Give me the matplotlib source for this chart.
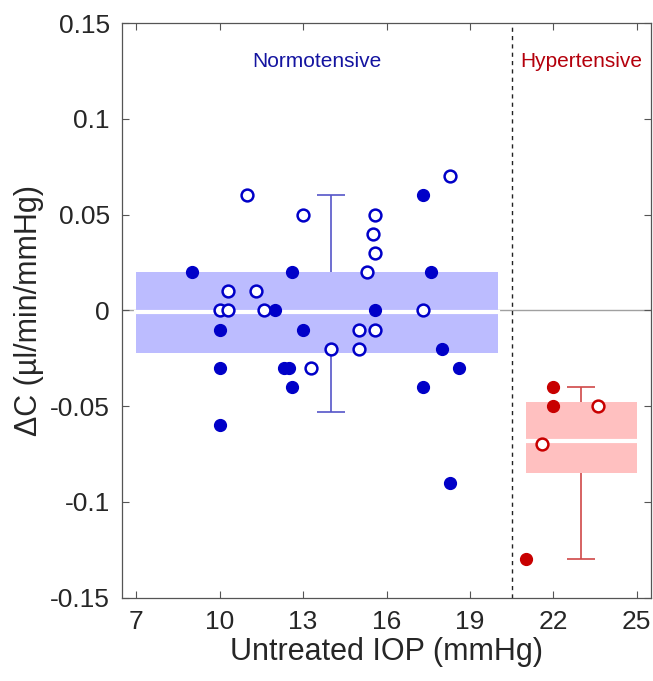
import numpy as np
import matplotlib.pyplot as plt

plt.rcParams['font.family'] = ['Liberation Sans', 'DejaVu Sans']

# normotensive eyes: IOP (mmHg), delta C
norm_fill_x = [9, 12.6, 12.0, 10, 13, 10, 12.3, 12.5, 12.6, 10,
               17.3, 17.6, 15.6, 18.0, 18.6, 17.3, 18.3]
norm_fill_y = [0.02, 0.02, 0, -0.01, -0.01, -0.03, -0.03, -0.03, -0.04, -0.06,
               0.06, 0.02, 0, -0.02, -0.03, -0.04, -0.09]
norm_open_x = [11, 13, 10.3, 11.3, 10, 10.3, 11.6, 13.3, 18.3, 15.6,
               15.5, 15.6, 15.3, 17.3, 15, 15.6, 14, 15]
norm_open_y = [0.06, 0.05, 0.01, 0.01, 0, 0, 0, -0.03, 0.07, 0.05,
               0.04, 0.03, 0.02, 0, -0.01, -0.01, -0.02, -0.02]

# hypertensive eyes
hyp_fill_x = [22, 22, 21]
hyp_fill_y = [-0.04, -0.05, -0.13]
hyp_open_x = [23.6, 21.6]
hyp_open_y = [-0.05, -0.07]

# box summaries: x-range, [q1, q3], median, whisker x, [low, high]
norm_box_x = [7, 20]
norm_q = [-0.022, 0.02]
norm_med = -0.001
norm_wx = 14
norm_whisk = [-0.053, 0.06]

hyp_box_x = [21, 25]
hyp_q = [-0.085, -0.048]
hyp_med = -0.068
hyp_wx = 23
hyp_whisk = [-0.13, -0.04]

threshold = 20.5

fig = plt.figure(figsize=(6.53, 6.81), dpi=100)
ax = fig.add_axes([0.1873, 0.1223, 0.8092, 0.8439])

ax.axhline(0, color='#a0a0a0', lw=1.0, zorder=0)


def draw_box(bx, q, med, wx, wh, fill, line):
    ax.fill_between(bx, q[0], q[1], color=fill, lw=0, zorder=1)
    ax.plot(bx, [med, med], color='white', lw=3, zorder=2)
    ax.vlines(wx, q[1], wh[1], color=line, lw=1.2, zorder=1)
    ax.vlines(wx, wh[0], q[0], color=line, lw=1.2, zorder=1)
    ax.hlines(wh, wx - 0.5, wx + 0.5, color=line, lw=1.2, zorder=1)


draw_box(norm_box_x, norm_q, norm_med, norm_wx, norm_whisk, '#bcbcff', '#5555c8')
draw_box(hyp_box_x, hyp_q, hyp_med, hyp_wx, hyp_whisk, '#ffc0c0', '#d04848')

blue = '#0000c8'
red = '#c80000'
ms = 8.5
ax.plot(norm_fill_x, norm_fill_y, 'o', color=blue, ms=ms, zorder=3)
ax.plot(norm_open_x, norm_open_y, 'o', mfc='white', mec=blue, mew=1.8, ms=ms, zorder=3)
ax.plot(hyp_fill_x, hyp_fill_y, 'o', color=red, ms=ms, zorder=3)
ax.plot(hyp_open_x, hyp_open_y, 'o', mfc='white', mec=red, mew=1.8, ms=ms, zorder=3)

ax.axvline(threshold, color='#222222', ls=(0, (3, 3)), lw=1.0, zorder=2)

ax.text(13.5, 0.13, 'Normotensive', color='#1414a0', fontsize=15, ha='center', va='center')
ax.text(23.0, 0.13, 'Hypertensive', color='#b4000c', fontsize=15, ha='center', va='center')

ax.set_xlim(6.5, 25.5)
ax.set_ylim(-0.15, 0.15)
ax.set_xticks([7, 10, 13, 16, 19, 22, 25])
ax.set_yticks([-0.15, -0.1, -0.05, 0, 0.05, 0.1, 0.15])
ax.set_yticklabels(['-0.15', '-0.1', '-0.05', '0', '0.05', '0.1', '0.15'])
ax.tick_params(direction='in', length=5, width=0.8, top=True, right=True,
               labelsize=19, labelcolor='#262626', color='#555555', pad=9)
for s in ax.spines.values():
    s.set_color('#555555')
    s.set_linewidth(0.9)

ax.set_xlabel('Untreated IOP (mmHg)', fontsize=22, color='#262626', labelpad=2)
ax.set_ylabel('ΔC (µl/min/mmHg)', fontsize=22, color='#262626', labelpad=4)

fig.savefig('out.png', dpi=100)
